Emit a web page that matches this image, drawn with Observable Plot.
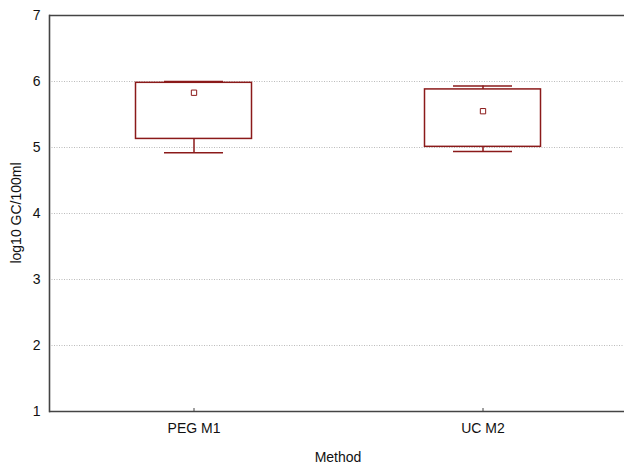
<!DOCTYPE html>
<html>
<head>
<meta charset="utf-8">
<script src="https://cdn.jsdelivr.net/npm/d3@7"></script>
<script src="https://cdn.jsdelivr.net/npm/@observablehq/plot@0.6"></script>
<style>
body { margin: 0; background: #fff; }
</style>
</head>
<body>
<div id="chart"></div>
<script>
const methods = ["PEG M1", "UC M2"];
const whiskerLow = [4.92, 4.94];
const boxLow = [5.13, 5.01];
const means = [5.83, 5.55];
const boxHigh = [5.98, 5.88];
const whiskerHigh = [6.00, 5.93];
const yTicks = [1, 2, 3, 4, 5, 6, 7];
const gridTicks = [2, 3, 4, 5, 6];

const data = methods.map((m, i) => ({
  method: m, wlo: whiskerLow[i], blo: boxLow[i], mean: means[i], bhi: boxHigh[i], whi: whiskerHigh[i]
}));

const red = "#8b1a1a";
const font = "Liberation Sans, Arial, sans-serif";
const chart = Plot.plot({
  width: 624,
  height: 467,
  marginTop: 15,
  marginBottom: 56,
  marginLeft: 49,
  marginRight: 0,
  style: { fontFamily: font, fontSize: "14px", color: "#111", background: "#fff" },
  x: { domain: methods, range: [49, 627], padding: 0 },
  y: { domain: [1, 7] },
  marks: [
    Plot.gridY(gridTicks, { stroke: "#bbb", strokeOpacity: 1, strokeDasharray: "1,1.5", strokeWidth: 1 }),
    Plot.ruleX(data, { x: "method", y1: "wlo", y2: "blo", stroke: red, strokeWidth: 1.5 }),
    Plot.ruleX(data, { x: "method", y1: "bhi", y2: "whi", stroke: red, strokeWidth: 1.5 }),
    Plot.tickY(data, { x: "method", y: "wlo", stroke: red, strokeWidth: 1.5, insetLeft: 115, insetRight: 115 }),
    Plot.tickY(data, { x: "method", y: "whi", stroke: red, strokeWidth: 1.5, insetLeft: 115, insetRight: 115 }),
    Plot.barY(data, { x: "method", y1: "blo", y2: "bhi", fill: "none", stroke: red, strokeWidth: 1.5, insetLeft: 86.5, insetRight: 86.5 }),
    Plot.dot(data, { x: "method", y: "mean", symbol: "square", r: 3, fill: "white", stroke: red, strokeWidth: 1 }),
    Plot.ruleY([1, 7], { stroke: "#444", strokeWidth: 1.6 }),
    Plot.frame({ anchor: "left", stroke: "#444", strokeWidth: 1.6 }),
    Plot.axisY(yTicks, { tickSize: 0, tickPadding: 9, tickFormat: "d", label: null, fontSize: 14 }),
    Plot.axisX({ tickSize: 3, dy: -3, tickFormat: () => "", label: null, stroke: "#444" }),
    Plot.axisX({ tickSize: 0, tickPadding: 12, label: null, fontSize: 14 })
  ]
});
document.getElementById("chart").appendChild(chart);

const svg = d3.select(chart);
svg.append("text")
  .attr("x", 338).attr("y", 462)
  .attr("text-anchor", "middle")
  .style("font-family", font)
  .style("font-size", "14px").attr("fill", "#111")
  .text("Method");
svg.append("text")
  .attr("transform", "translate(21,213) rotate(-90)")
  .attr("text-anchor", "middle")
  .style("font-family", font)
  .style("font-size", "14px").attr("fill", "#111")
  .text("log10 GC/100ml");
</script>
</body>
</html>
